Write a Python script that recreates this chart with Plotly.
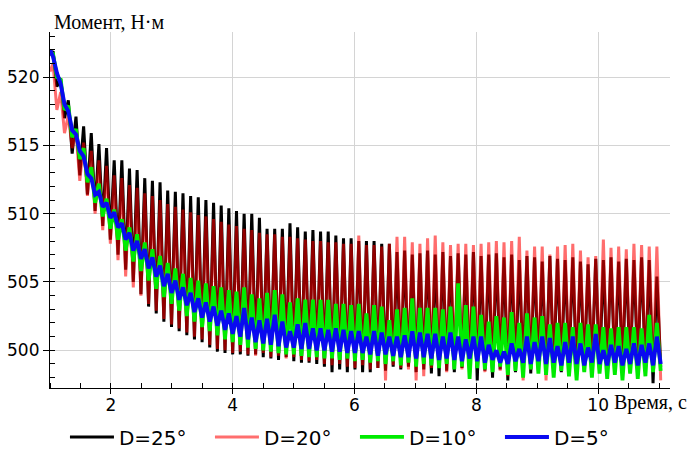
import numpy as np
import plotly.graph_objects as go

# Sampling grid of the torque oscillation: one peak and one trough per cycle
CYCLE_START = 1.05   # s, first peak
CYCLE_PERIOD = 0.1255  # s

# Initial torque at t = 1 s, N*m
start_values = {"D=25°": 521.6, "D=20°": 520.4, "D=10°": 521.8, "D=5°": 522.0}

# D = 25 deg
peaks_25 = [
    521.9, 519.9, 518.3, 517.1, 516.4, 515.9, 515.1, 514.8, 513.9, 513.9,
    513.3, 513.2, 512.6, 512.4, 512.3, 511.7, 511.6, 511.5, 511.3, 511.2,
    511.0, 510.8, 510.6, 510.4, 510.2, 510.0, 510.0, 509.7, 508.9, 508.9,
    508.9, 509.3, 509.0, 508.7, 508.8, 508.7, 508.7, 508.4, 508.2, 508.2,
    508.0, 508.0, 508.0, 507.8, 507.8, 507.2, 507.3, 507.0, 507.1, 507.3,
    507.0, 507.2, 506.9, 507.1, 507.0, 507.2, 506.9, 507.0, 507.1, 506.8,
    507.0, 506.6, 506.9, 506.8, 506.5, 506.9, 506.7, 506.6, 506.8, 506.5,
    506.3, 506.7, 506.6, 506.8, 506.5, 506.7, 506.6, 506.8, 506.6, 505.4,
]
troughs_25 = [
    519.3, 517.0, 514.4, 512.8, 511.4, 510.2, 509.1, 508.1, 507.0, 505.9,
    505.0, 504.1, 503.2, 502.7, 502.1, 501.7, 501.4, 501.1, 500.8, 500.6,
    500.2, 499.9, 499.8, 499.7, 499.7, 499.6, 499.7, 499.5, 499.4, 499.3,
    499.5, 499.2, 499.1, 499.1, 499.0, 498.8, 498.4, 498.6, 498.4, 498.6,
    498.4, 498.4, 498.7, 498.5, 498.8, 498.6, 498.8, 498.4, 498.6, 498.3,
    498.1, 498.5, 498.4, 498.7, 498.3, 497.8, 498.5, 498.0, 498.6, 497.8,
    498.4, 498.6, 498.3, 498.5, 498.2, 498.6, 498.4, 498.7, 498.3, 498.5,
    498.6, 498.4, 498.7, 498.5, 498.6, 498.4, 498.7, 498.5, 497.6, 498.8,
]

# D = 20 deg
peaks_20 = [
    521.0, 518.9, 517.2, 516.0, 515.2, 514.6, 513.9, 513.5, 512.8, 512.6,
    512.1, 511.9, 511.5, 511.3, 511.0, 510.7, 510.5, 510.3, 510.1, 509.9,
    509.8, 509.6, 509.4, 509.2, 509.1, 508.9, 508.8, 508.6, 508.5, 508.5,
    508.3, 508.3, 508.2, 508.1, 508.0, 508.0, 507.9, 507.9, 507.8, 507.8,
    508.4, 507.7, 507.7, 507.6, 507.8, 508.3, 508.3, 507.9, 507.8, 508.2,
    508.4, 507.9, 507.7, 507.8, 507.8, 507.7, 507.8, 507.9, 508.0, 507.9,
    508.0, 508.3, 507.3, 507.6, 507.6, 507.0, 507.6, 507.7, 507.8, 507.3,
    506.8, 506.9, 508.1, 507.5, 507.6, 507.4, 507.8, 507.7, 507.6, 507.6,
]
troughs_20 = [
    517.6, 515.9, 514.8, 512.4, 511.3, 510.0, 508.8, 507.8, 506.6, 505.4,
    504.6, 504.0, 503.4, 502.9, 502.3, 501.9, 501.6, 501.3, 501.0, 500.8,
    500.4, 500.1, 500.0, 499.8, 499.9, 499.7, 499.6, 499.8, 499.5, 499.6,
    499.4, 499.5, 499.3, 499.2, 499.3, 499.0, 498.9, 499.0, 498.8, 498.7,
    498.9, 498.6, 498.7, 497.8, 498.9, 498.7, 498.6, 497.8, 498.1, 498.7,
    498.8, 498.4, 498.9, 498.6, 498.6, 498.9, 498.4, 498.7, 498.5, 498.1,
    498.8, 497.8, 498.6, 498.7, 497.8, 498.9, 498.5, 498.7, 498.4, 498.8,
    498.6, 498.9, 498.3, 498.7, 498.9, 498.5, 498.8, 498.4, 498.7, 497.8,
]

# D = 10 deg
peaks_10 = [
    521.7, 519.8, 517.9, 516.2, 514.8, 513.4, 512.2, 511.1, 510.3, 509.6,
    509.0, 508.5, 507.9, 507.4, 506.9, 506.4, 506.0, 505.6, 505.3, 505.1,
    504.9, 504.7, 504.6, 504.4, 504.3, 504.6, 504.1, 503.8, 504.2, 504.4,
    504.1, 503.5, 503.8, 503.7, 503.7, 503.7, 503.7, 503.4, 503.4, 503.3,
    503.4, 502.7, 503.3, 503.2, 502.2, 503.0, 503.1, 503.8, 503.1, 503.1,
    503.1, 503.0, 503.2, 504.9, 503.3, 503.2, 502.6, 502.1, 502.5, 502.4,
    502.8, 502.0, 502.7, 502.4, 502.5, 501.9, 502.0, 502.0, 501.7, 502.0,
    501.9, 501.9, 501.7, 501.6, 501.7, 501.7, 501.7, 501.6, 502.6, 502.0,
]
troughs_10 = [
    520.0, 517.6, 515.6, 514.0, 512.3, 510.8, 509.8, 508.9, 508.1, 507.3,
    506.5, 505.8, 505.1, 504.5, 503.9, 503.4, 502.9, 502.5, 502.1, 501.7,
    501.4, 501.1, 500.8, 500.6, 500.4, 500.2, 500.1, 500.0, 499.9, 499.8,
    499.7, 499.7, 499.6, 499.5, 499.5, 499.4, 499.4, 499.3, 499.4, 499.2,
    499.3, 499.1, 499.2, 499.0, 499.2, 498.9, 499.1, 498.8, 499.0, 498.9,
    498.7, 499.0, 498.6, 498.8, 497.9, 498.7, 498.6, 498.4, 498.8, 498.2,
    498.5, 498.0, 498.6, 498.3, 498.2, 498.0, 498.5, 498.1, 497.8, 498.4,
    498.0, 498.3, 497.9, 498.2, 497.8, 498.3, 497.9, 498.1, 498.4, 498.5,
]

# D = 5 deg
peaks_5 = [
    521.5, 519.5, 517.5, 515.8, 514.2, 512.6, 511.6, 510.8, 510.1, 509.3,
    508.6, 508.0, 507.4, 506.8, 506.2, 505.6, 505.1, 504.6, 504.2, 503.8,
    503.5, 503.2, 502.9, 502.7, 502.5, 503.1, 502.4, 502.2, 502.3, 502.6,
    502.1, 501.4, 501.9, 502.0, 501.6, 501.6, 501.5, 501.6, 501.5, 501.4,
    501.4, 501.0, 501.4, 501.3, 501.0, 501.0, 501.1, 501.4, 501.3, 501.2,
    501.2, 501.0, 501.3, 501.0, 500.8, 501.0, 501.0, 500.4, 500.0, 499.9,
    500.5, 500.1, 501.0, 500.6, 501.0, 500.9, 500.3, 500.6, 501.0, 500.5,
    500.2, 501.2, 500.0, 500.4, 500.3, 500.1, 500.5, 500.4, 500.5, 501.0,
]
troughs_5 = [
    520.3, 518.0, 516.1, 514.6, 512.9, 511.4, 510.5, 509.7, 509.0, 508.1,
    507.3, 506.7, 506.0, 505.4, 504.7, 504.2, 503.7, 503.3, 502.8, 502.4,
    502.1, 501.8, 501.5, 501.2, 501.0, 500.8, 500.6, 500.5, 500.4, 500.3,
    500.2, 500.2, 500.1, 500.1, 500.0, 500.0, 499.9, 499.9, 499.8, 499.8,
    499.8, 499.7, 499.6, 499.7, 499.6, 499.5, 499.5, 499.4, 499.5, 499.4,
    499.3, 499.4, 499.3, 499.2, 499.4, 499.2, 499.1, 499.3, 499.1, 499.0,
    499.2, 499.1, 499.0, 499.2, 499.0, 499.1, 498.9, 499.1, 499.0, 498.9,
    499.1, 499.0, 498.9, 499.1, 498.9, 499.0, 498.9, 499.1, 498.9, 499.0,
]

series = [
    ("D=25°", peaks_25, troughs_25, "rgb(0,0,0)", 1.0, 3.0),
    ("D=20°", peaks_20, troughs_20, "rgb(255,0,0)", 0.57, 3.0),
    ("D=10°", peaks_10, troughs_10, "rgb(0,235,0)", 1.0, 3.8),
    ("D=5°", peaks_5, troughs_5, "rgb(10,10,240)", 1.0, 4.0),
]


def waveform(start, peaks, troughs):
    """Interleave peaks and troughs on the cycle grid."""
    t_peak = CYCLE_START + CYCLE_PERIOD * np.arange(len(peaks))
    t_trough = t_peak + CYCLE_PERIOD / 2
    x = [1.0]
    y = [start]
    for tp, p, tt, v in zip(t_peak, peaks, t_trough, troughs):
        x += [tp, tt]
        y += [p, v]
    return x, y


fig = go.Figure()
for name, pk, tr, color, alpha, lw in series:
    x, y = waveform(start_values[name], pk, tr)
    fig.add_trace(go.Scatter(
        x=x, y=y, mode="lines", name=name, opacity=alpha,
        line=dict(color=color, width=lw),
    ))

SANS = "DejaVu Sans"
SERIF = "Liberation Serif"

fig.update_layout(
    width=691, height=457,
    margin=dict(l=50, r=21, t=32, b=69, autoexpand=False),
    paper_bgcolor="white", plot_bgcolor="white",
    showlegend=True,
    legend=dict(
        orientation="h", xref="container", yref="container",
        x=0.094, xanchor="left", y=0.044, yanchor="middle",
        font=dict(family=SANS, size=20, color="black"),
        itemwidth=44, entrywidth=86, entrywidthmode="pixels",
        bgcolor="rgba(0,0,0,0)",
    ),
    xaxis=dict(
        range=[1.0, 11.18], tickmode="linear", tick0=0, dtick=2,
        ticks="outside", ticklen=5, tickcolor="black", tickwidth=1,
        ticklabelstandoff=-4,
        showgrid=True, gridcolor="#d4d4d4", gridwidth=1,
        showline=True, linecolor="black", linewidth=1.2, zeroline=False,
        tickfont=dict(family=SANS, size=17, color="black"),
        minor=dict(tickmode="linear", tick0=0, dtick=0.5, ticks="inside",
                   ticklen=5, tickcolor="black", showgrid=False),
    ),
    yaxis=dict(
        range=[497.24, 523.3], tickmode="linear", tick0=500, dtick=5,
        ticks="outside", ticklen=6, tickcolor="black", tickwidth=1,
        showgrid=True, gridcolor="#d4d4d4", gridwidth=1,
        showline=True, linecolor="black", linewidth=1.2, zeroline=False,
        tickfont=dict(family=SANS, size=17, color="black"),
        minor=dict(tickmode="linear", tick0=0, dtick=1, ticks="inside",
                   ticklen=5, tickcolor="black", showgrid=False),
    ),
    annotations=[
        dict(text="Момент, Н·м", xref="paper", yref="paper",
             x=0.003, y=1.028, xanchor="left", yanchor="middle",
             showarrow=False, font=dict(family=SERIF, size=20, color="black")),
        dict(text="Время, с", xref="paper", yref="paper",
             x=0.906, y=-0.041, xanchor="left", yanchor="middle",
             showarrow=False, font=dict(family=SERIF, size=20, color="black")),
    ],
)

fig.write_html("out.html")
